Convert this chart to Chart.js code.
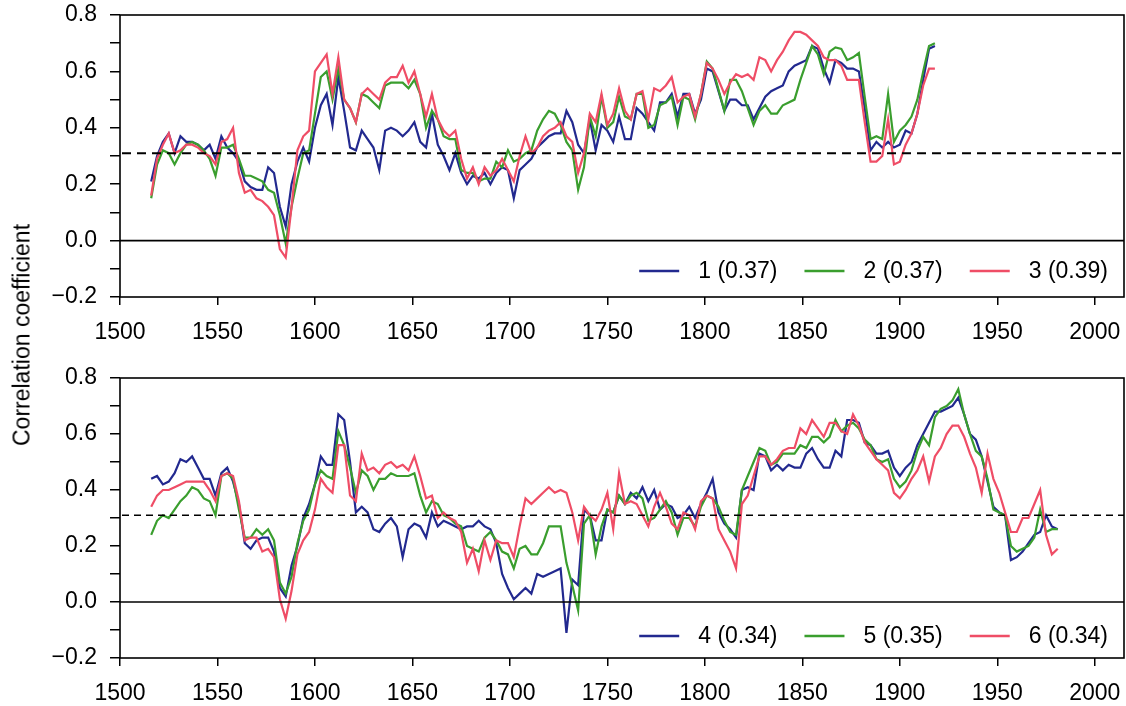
<!DOCTYPE html>
<html>
<head>
<meta charset="utf-8">
<script src="https://cdn.jsdelivr.net/npm/chart.js@4.4.1/dist/chart.umd.min.js"></script>
<style>
  body { margin: 0; background: #fff; }
  #wrap { position: relative; width: 1126px; height: 706px; background: #fff; overflow: hidden; }
  canvas { position: absolute; left: 0; }
  #ytitle {
    position: absolute; left: 22px; top: 335px;
    transform: translate(-50%, -50%) rotate(-90deg);
    font-family: "Liberation Sans", Arial, sans-serif; font-size: 23px; color: #000;
    white-space: nowrap;
  }
</style>
</head>
<body>
<div id="wrap">
  <canvas id="topChart" width="1126" height="352" style="top:0px"></canvas>
  <canvas id="botChart" width="1126" height="352" style="top:354px"></canvas>
  <div id="ytitle">Correlation coefficient</div>
</div>
<script>
// ---- data ----
var topYears = [1516,1519,1522,1525,1528,1531,1534,1537,1540,1543,1546,1549,1552,1555,1558,1561,1564,1567,1570,1573,
  1576,1579,1582,1585,1588,1591,1594,1597,1600,1603,1606,1609,1612,1615,1618,1621,1624,1627,1630,1633,
  1636,1639,1642,1645,1648,1651,1654,1657,1660,1663,1666,1669,1672,1675,1678,1681,1684,1687,1690,1693,
  1696,1699,1702,1705,1708,1711,1714,1717,1720,1723,1726,1729,1732,1735,1738,1741,1744,1747,1750,1753,
  1756,1759,1762,1765,1768,1771,1774,1777,1780,1783,1786,1789,1792,1795,1798,1801,1804,1807,1810,1813,
  1816,1819,1822,1825,1828,1831,1834,1837,1840,1843,1846,1849,1852,1855,1858,1861,1864,1867,1870,1873,
  1876,1879,1882,1885,1888,1891,1894,1897,1900,1903,1906,1909,1912,1915,1918];
var series1 = [.21,.30,.35,.38,.31,.37,.35,.35,.34,.32,.34,.29,.37,.33,.31,.28,.21,.19,.18,.18,
  .26,.24,.12,.05,.20,.28,.33,.28,.40,.48,.52,.41,.58,.46,.33,.32,.39,.36,.33,.25,
  .39,.40,.39,.37,.39,.42,.35,.33,.45,.34,.30,.25,.31,.24,.20,.23,.22,.24,.20,.24,
  .26,.25,.15,.25,.27,.29,.33,.35,.37,.38,.38,.46,.42,.34,.31,.43,.32,.41,.39,.35,
  .44,.36,.36,.47,.45,.42,.39,.49,.49,.52,.44,.52,.52,.45,.50,.61,.60,.53,.46,.50,
  .50,.48,.48,.43,.47,.51,.53,.54,.55,.60,.62,.63,.64,.69,.68,.61,.56,.64,.63,.61,
  .61,.60,.47,.32,.35,.33,.35,.33,.34,.39,.38,.45,.57,.68,.69];
var series2 = [.15,.27,.32,.31,.27,.31,.34,.35,.34,.32,.29,.23,.33,.33,.34,.29,.23,.23,.22,.21,
  .18,.17,.09,-.01,.12,.22,.31,.32,.45,.58,.60,.50,.61,.50,.47,.42,.52,.51,.49,.47,
  .55,.56,.56,.56,.54,.57,.52,.40,.46,.43,.37,.36,.36,.25,.24,.24,.21,.22,.22,.28,
  .26,.32,.28,.29,.31,.32,.39,.43,.46,.45,.41,.35,.32,.18,.26,.44,.37,.51,.40,.42,
  .51,.44,.43,.52,.52,.40,.41,.48,.49,.51,.41,.51,.50,.43,.52,.635,.61,.535,.46,.57,
  .57,.53,.47,.41,.46,.48,.45,.45,.48,.49,.50,.57,.63,.69,.66,.59,.67,.685,.68,.64,
  .65,.665,.51,.36,.37,.36,.52,.35,.39,.41,.44,.50,.60,.69,.70];
var series3 = [.16,.29,.34,.38,.31,.32,.34,.34,.33,.31,.30,.27,.35,.36,.40,.24,.17,.18,.15,.14,
  .12,.09,-.03,-.06,.12,.32,.37,.39,.60,.63,.66,.52,.65,.50,.47,.42,.52,.54,.52,.50,
  .56,.58,.58,.62,.56,.60,.52,.44,.52,.43,.39,.37,.39,.29,.22,.26,.20,.26,.23,.25,
  .29,.25,.21,.30,.37,.31,.33,.37,.39,.40,.42,.37,.35,.24,.31,.45,.42,.52,.41,.45,
  .54,.46,.43,.52,.53,.43,.54,.53,.55,.58,.49,.51,.52,.44,.52,.63,.61,.57,.52,.56,
  .59,.58,.59,.57,.65,.64,.60,.64,.67,.71,.74,.74,.73,.71,.69,.65,.64,.64,.62,.57,
  .57,.57,.42,.28,.28,.30,.43,.27,.28,.34,.38,.45,.55,.61,.61];

var botYears = [1516,1519,1522,1525,1528,1531,1534,1537,1540,1543,1546,1549,1552,1555,1558,1561,1564,1567,1570,1573,
  1576,1579,1582,1585,1588,1591,1594,1597,1600,1603,1606,1609,1612,1615,1618,1621,1624,1627,1630,1633,
  1636,1639,1642,1645,1648,1651,1654,1657,1660,1663,1666,1669,1672,1675,1678,1681,1684,1687,1690,1693,
  1696,1699,1702,1705,1708,1711,1714,1717,1720,1723,1726,1729,1732,1735,1738,1741,1744,1747,1750,1753,
  1756,1759,1762,1765,1768,1771,1774,1777,1780,1783,1786,1789,1792,1795,1798,1801,1804,1807,1810,1813,
  1816,1819,1822,1825,1828,1831,1834,1837,1840,1843,1846,1849,1852,1855,1858,1861,1864,1867,1870,1873,
  1876,1879,1882,1885,1888,1891,1894,1897,1900,1903,1906,1909,1912,1915,1918,1921,1924,1927,1930,1933,
  1936,1939,1942,1945,1948,1951,1954,1957,1960,1963,1966,1969,1972,1975,1978,1981];
var series4 = [.44,.45,.42,.43,.46,.51,.50,.52,.48,.44,.44,.38,.46,.48,.43,.35,.21,.19,.22,.23,
  .23,.18,.05,.02,.13,.20,.30,.35,.42,.52,.49,.49,.67,.65,.50,.32,.34,.32,.26,.25,
  .28,.30,.27,.16,.26,.28,.27,.23,.32,.27,.29,.28,.27,.26,.27,.27,.29,.27,.26,.21,
  .10,.05,.01,.03,.05,.03,.10,.09,.10,.11,.12,-.11,.08,.06,.33,.31,.22,.22,.33,.32,
  .38,.35,.39,.37,.41,.36,.40,.33,.35,.34,.30,.31,.34,.30,.35,.39,.44,.32,.28,.26,
  .23,.40,.41,.40,.53,.52,.47,.49,.47,.49,.48,.48,.53,.55,.51,.48,.48,.54,.52,.65,
  .65,.64,.57,.56,.53,.53,.54,.48,.45,.48,.50,.56,.60,.64,.68,.68,.69,.70,.73,.67,
  .60,.58,.52,.43,.34,.32,.31,.15,.16,.18,.21,.24,.25,.31,.27,.26];
var series5 = [.24,.29,.31,.30,.33,.36,.38,.41,.40,.37,.36,.31,.45,.46,.44,.33,.23,.23,.26,.24,
  .26,.22,.07,.03,.09,.21,.29,.33,.42,.47,.45,.44,.61,.56,.48,.39,.47,.45,.40,.44,
  .44,.46,.45,.45,.45,.46,.38,.32,.36,.35,.31,.30,.28,.27,.20,.19,.18,.23,.25,.22,
  .18,.17,.12,.19,.20,.17,.17,.21,.27,.27,.27,.14,.06,-.03,.28,.31,.17,.27,.33,.32,
  .38,.35,.38,.39,.37,.29,.30,.33,.36,.32,.24,.30,.30,.27,.34,.38,.37,.34,.29,.25,
  .24,.40,.45,.50,.55,.54,.49,.50,.53,.53,.53,.56,.55,.59,.59,.57,.59,.65,.61,.63,
  .64,.62,.58,.56,.51,.50,.51,.44,.41,.43,.47,.54,.59,.56,.66,.69,.70,.72,.76,.67,
  .60,.54,.52,.44,.33,.32,.31,.20,.18,.19,.20,.23,.33,.25,.26,.26];
var series6 = [.34,.38,.40,.40,.41,.42,.43,.43,.43,.43,.40,.36,.45,.46,.45,.36,.22,.23,.23,.18,
  .19,.16,.01,-.06,.04,.17,.22,.25,.33,.44,.41,.39,.56,.56,.38,.36,.53,.47,.48,.46,
  .49,.50,.48,.49,.47,.52,.45,.37,.38,.30,.32,.30,.29,.25,.14,.19,.11,.22,.15,.22,
  .21,.21,.16,.27,.37,.35,.37,.39,.41,.39,.40,.39,.32,.22,.34,.31,.29,.33,.39,.26,
  .46,.35,.36,.35,.31,.27,.34,.39,.34,.28,.26,.32,.31,.26,.36,.38,.37,.26,.22,.18,
  .12,.35,.38,.45,.52,.52,.49,.51,.54,.55,.55,.62,.60,.65,.62,.59,.64,.64,.61,.60,
  .67,.63,.57,.54,.51,.49,.47,.39,.37,.40,.44,.47,.52,.43,.52,.55,.60,.63,.63,.59,
  .53,.48,.39,.53,.44,.39,.32,.25,.25,.30,.30,.35,.40,.24,.17,.19];

var topLabels = ['1 (0.37)', '2 (0.37)', '3 (0.39)'];
var botLabels = ['4 (0.34)', '5 (0.35)', '6 (0.34)'];
var seriesColors = ['#22298f', '#3a9e2e', '#ef4d66'];

var xTickValues = [1500, 1550, 1600, 1650, 1700, 1750, 1800, 1850, 1900, 1950, 2000];
var yTickValues = [-0.2, -0.1, 0, 0.1, 0.2, 0.3, 0.4, 0.5, 0.6, 0.7, 0.8];
var yLabelValues = [-0.2, 0, 0.2, 0.4, 0.6, 0.8];
var threshold = 0.31;

var FONT = '"Liberation Sans", Arial, sans-serif';
Chart.defaults.font.family = FONT;
Chart.defaults.font.size = 23;
Chart.defaults.color = '#000';

function toPoints(years, vals) {
    return years.map(function (yr, i) { return { x: yr, y: vals[i] }; });
}

function yLabel(v) {
    var r = Math.round(v * 10) / 10;
    for (var i = 0; i < yLabelValues.length; i++) {
        if (Math.abs(yLabelValues[i] - r) < 1e-9) {
            return (r < 0 ? '\u2212' : '') + Math.abs(r).toFixed(1);
        }
    }
    return '';
}

// box, zero line and dashed threshold
var framePlugin = {
    id: 'frame',
    afterDatasetsDraw: function (chart, args, opts) {
        var ctx = chart.ctx, a = chart.chartArea, y = chart.scales.y;
        ctx.save();
        ctx.strokeStyle = '#000';
        ctx.lineWidth = 1.6;
        ctx.beginPath();
        var y0 = y.getPixelForValue(0);
        ctx.moveTo(a.left, y0); ctx.lineTo(a.right, y0);
        ctx.stroke();
        ctx.lineWidth = opts.dashWidth;
        ctx.setLineDash(opts.dash);
        ctx.beginPath();
        var yt = y.getPixelForValue(threshold);
        ctx.moveTo(a.left + 2, yt); ctx.lineTo(a.right, yt);
        ctx.stroke();
        ctx.setLineDash([]);
        ctx.lineWidth = 1.6;
        ctx.strokeRect(a.left, a.top, a.right - a.left, a.bottom - a.top);
        ctx.restore();
    }
};

// legend inside the plot, bottom right
var insideLegend = {
    id: 'insideLegend',
    afterDraw: function (chart, args, opts) {
        var ctx = chart.ctx, a = chart.chartArea;
        ctx.save();
        ctx.font = '23px ' + FONT;
        ctx.textBaseline = 'middle';
        var lineLen = 40, gap1 = 19, gap2 = 27;
        var total = 0;
        var widths = opts.labels.map(function (t) { return ctx.measureText(t).width; });
        widths.forEach(function (w, i) { total += lineLen + gap1 + w + (i ? gap2 : 0); });
        var x = a.right - 16 - total;
        var yy = a.bottom - opts.offset;
        opts.labels.forEach(function (t, i) {
            ctx.strokeStyle = seriesColors[i];
            ctx.lineWidth = 2.5;
            ctx.beginPath();
            ctx.moveTo(x, yy); ctx.lineTo(x + lineLen, yy);
            ctx.stroke();
            x += lineLen + gap1;
            ctx.fillStyle = '#000';
            ctx.fillText(t, x, yy + 1);
            x += widths[i] + gap2;
        });
        ctx.restore();
    }
};

function makeChart(id, years, list, labels, padTop, axisH, legendOffset, dashWidth, dash) {
    var datasets = list.map(function (vals, i) {
        return {
            label: labels[i],
            data: toPoints(years, vals),
            borderColor: seriesColors[i],
            borderWidth: 2.2,
            pointRadius: 0,
            tension: 0,
            fill: false,
            order: 3 - i
        };
    });
    return new Chart(document.getElementById(id), {
        type: 'line',
        data: { datasets: datasets },
        options: {
            responsive: false,
            animation: false,
            layout: { padding: { top: padTop, right: 2, left: 0, bottom: 0 } },
            scales: {
                x: {
                    type: 'linear',
                    min: 1500,
                    max: 2015,
                    afterBuildTicks: function (s) { s.ticks = xTickValues.map(function (v) { return { value: v }; }); },
                    afterFit: function (s) { s.height = axisH; s.paddingLeft = 0; s.paddingRight = 0; },
                    ticks: { callback: function (v) { return String(v); }, padding: 14, maxRotation: 0, autoSkip: false },
                    grid: { drawOnChartArea: false, drawTicks: true, tickLength: 8, color: '#000', lineWidth: 1.5 },
                    border: { display: false }
                },
                y: {
                    min: -0.2,
                    max: 0.8,
                    afterBuildTicks: function (s) { s.ticks = yTickValues.map(function (v) { return { value: v }; }); },
                    afterFit: function (s) { s.width = 120; s.paddingTop = 0; s.paddingBottom = 0; },
                    ticks: { callback: yLabel, padding: 13, autoSkip: false },
                    grid: { drawOnChartArea: false, drawTicks: true, tickLength: 10, color: '#000', lineWidth: 1.5 },
                    border: { display: false }
                }
            },
            plugins: {
                legend: { display: false },
                tooltip: { enabled: false },
                frame: { dashWidth: dashWidth, dash: dash },
                insideLegend: { labels: labels, offset: legendOffset }
            }
        },
        plugins: [framePlugin, insideLegend]
    });
}

makeChart('topChart', topYears, [series1, series2, series3], topLabels, 15, 55, 26, 2, [9, 6]);
makeChart('botChart', botYears, [series4, series5, series6], botLabels, 24, 48, 22, 1.5, [7, 5]);
</script>
</body>
</html>
